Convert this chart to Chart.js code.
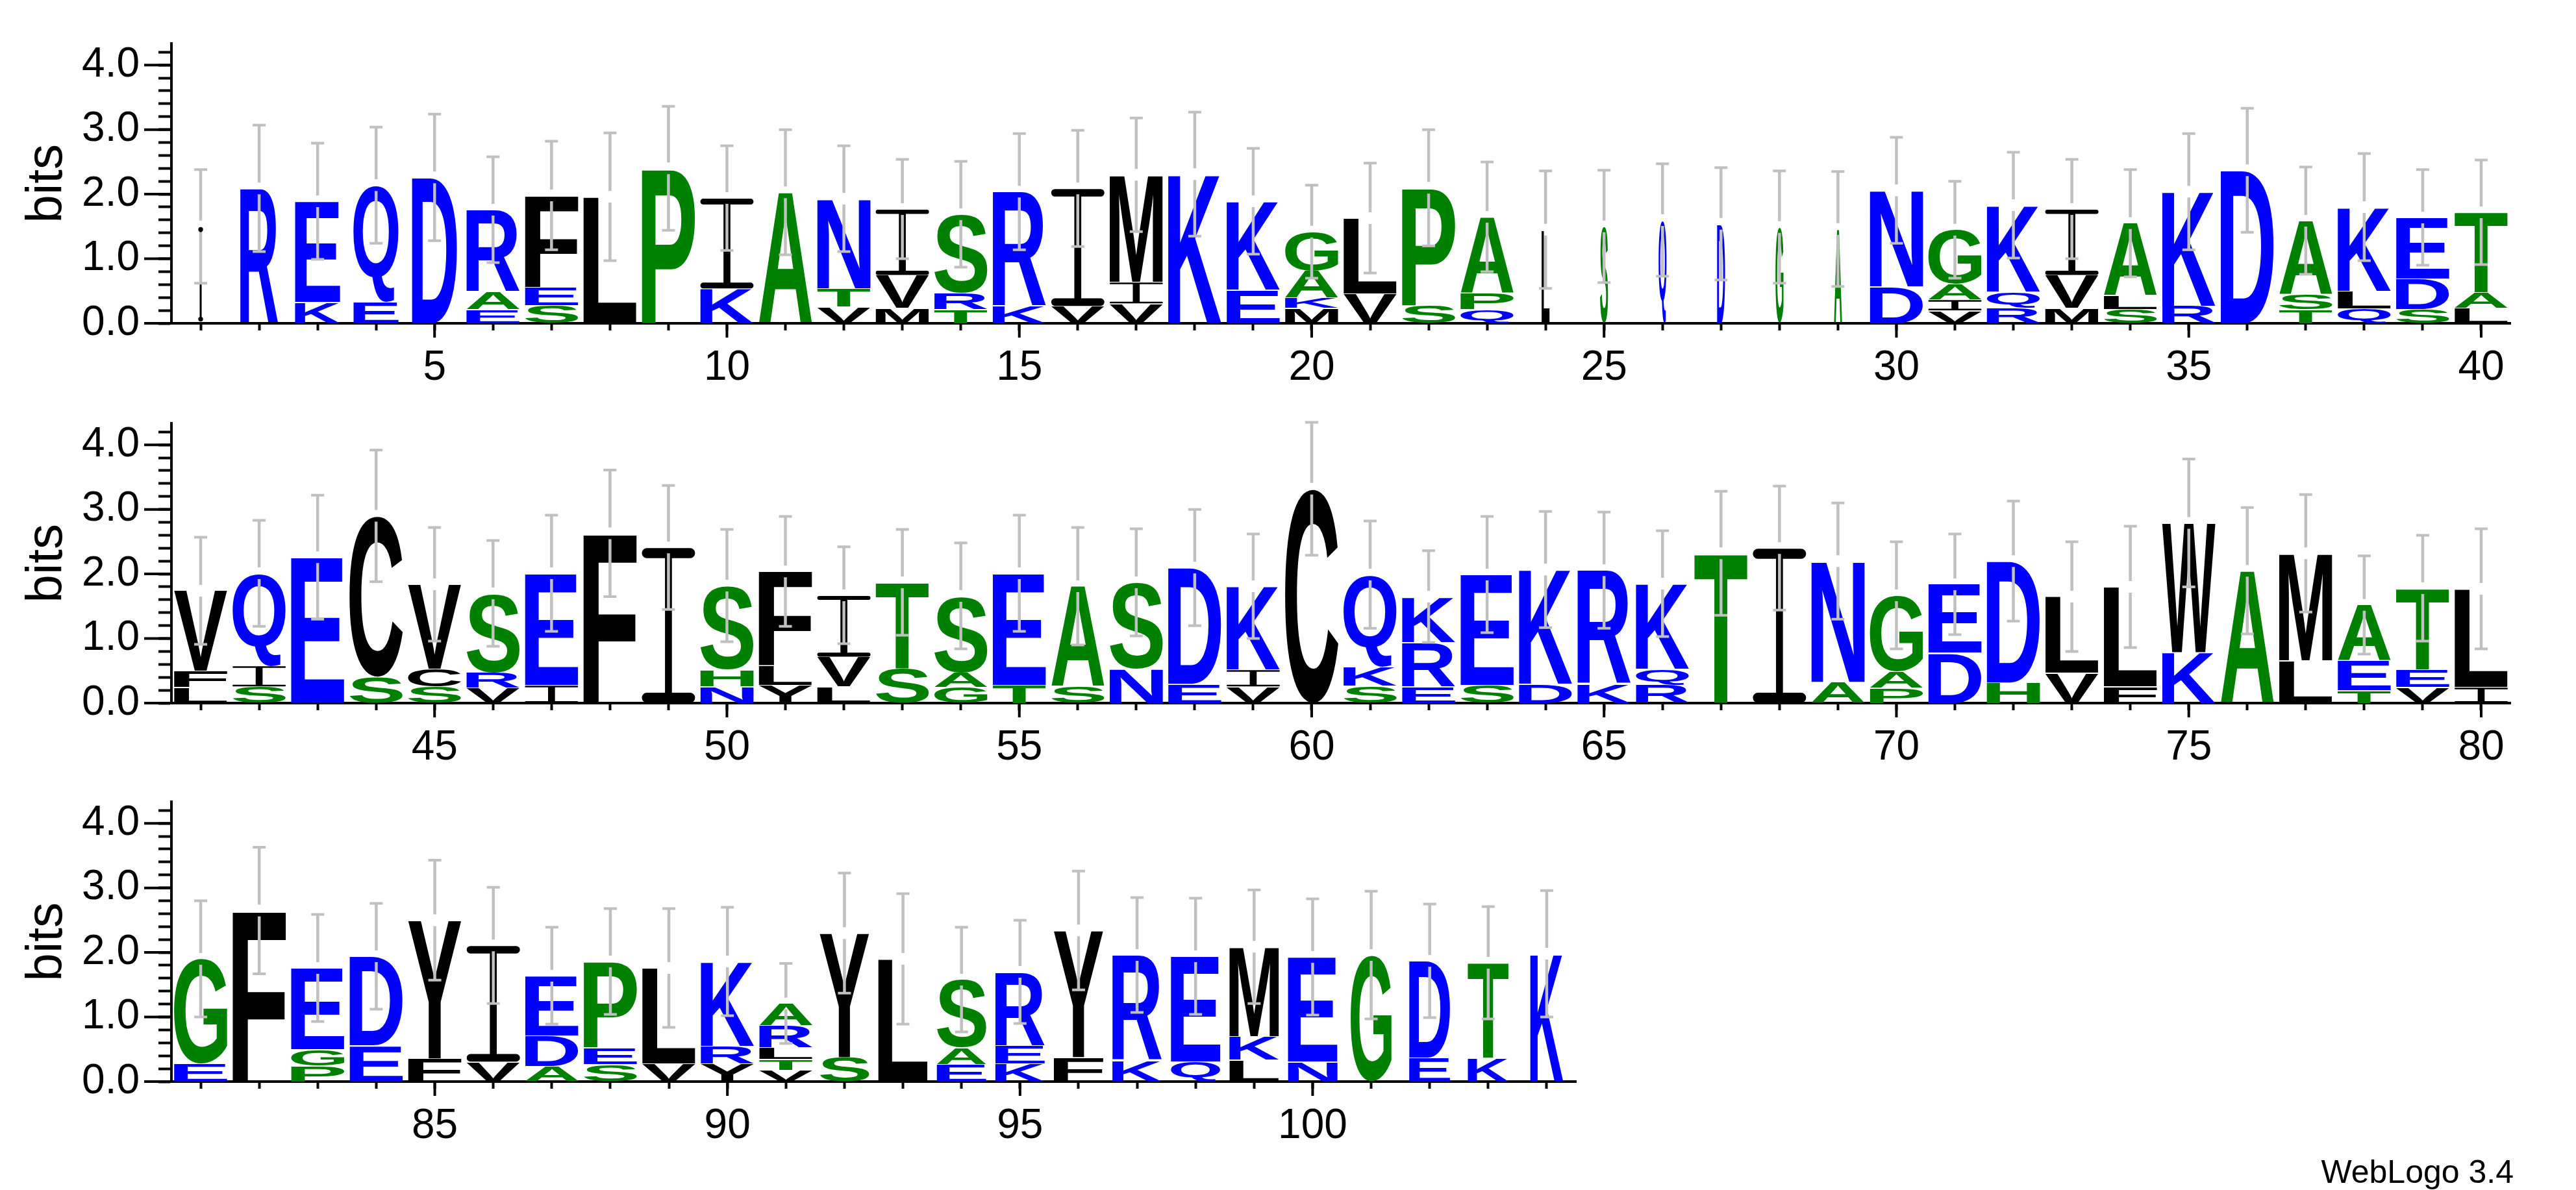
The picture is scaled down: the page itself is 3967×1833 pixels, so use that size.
<!DOCTYPE html>
<html>
<head>
<meta charset="utf-8">
<script src="https://cdn.jsdelivr.net/npm/chart.js@4.4.1/dist/chart.umd.min.js"></script>
<style>
  html, body { margin: 0; padding: 0; background: #fff; }
  body { width: 3967px; height: 1833px; position: relative; overflow: hidden; }
  canvas { position: absolute; left: 0; }
  #credit { position: absolute; right: 96px; top: 1780px; font: 50px "Liberation Sans", Arial, sans-serif; line-height: 50px; color: #000; white-space: nowrap; }
</style>
</head>
<body>
<canvas id="row1" width="3967" height="600" style="top:0px"></canvas>
<canvas id="row2" width="3967" height="600" style="top:585px"></canvas>
<canvas id="row3" width="3967" height="600" style="top:1168px"></canvas>
<div id="credit">WebLogo 3.4</div>
<script>
// letters of each column, bottom to top
const residues = [
  'I','R','KE','EQ','D','EAR','SEF','L','P','KI',
  'A','VTN','MVI','TRS','KR','VI','VIM','K','EK','MKAG',
  'VL','SP','QPA','L','S','Q','D','G','A','DN',
  'VIAG','RQK','MVI','SLA','RK','D','TSA','QLK','SDE','LAT',
  'LFV','SIQ','E','SC','SCV','VRS','IE','F','I','NHS',
  'YLF','LVI','ST','GAS','TE','SA','NS','ED','VIK','C',
  'SKQ','ERK','SE','DK','KR','RQK','T','I','AN','PAG',
  'DE','HD','VL','FL','KW','A','LM','TEA','VET','IL',
  'EG','F','PGE','ED','FY','VI','ADE','SEP','VL','YRK',
  'VTLRA','SY','L','EAS','KER','FY','KR','QE','LKM','NE',
  'G','ED','KT','K'
];

// bits for each letter, same order as residues
const bits = [
  [1.50],[2.09],[0.33,1.56],[0.34,1.80],[2.26],[0.22,0.27,1.27],[0.28,0.28,1.42],[1.96],[2.40],[0.54,1.40],
  [2.03],[0.26,0.28,1.39],[0.24,0.51,1.02],[0.22,0.26,1.21],[0.27,1.77],[0.27,1.82],[0.31,0.33,1.66],[2.31],[0.52,1.37],[0.24,0.16,0.42,0.60],
  [0.46,1.17],[0.28,1.82],[0.22,0.25,1.18],[1.45],[1.50],[1.60],[1.54],[1.49],[1.46],[0.57,1.49],
  [0.20,0.17,0.24,0.84],[0.24,0.25,1.34],[0.24,0.51,1.02],[0.22,0.21,1.12],[0.27,1.77],[2.37],[0.22,0.23,1.14],[0.23,0.27,1.30],[0.22,0.47,0.95],[0.24,0.24,1.24],
  [0.25,0.25,1.24],[0.26,0.32,1.43],[2.26],[0.41,2.49],[0.26,0.27,1.31],[0.24,0.24,1.22],[0.28,1.73],[2.63],[2.41],[0.26,0.26,1.30],
  [0.28,0.30,1.46],[0.26,0.46,0.95],[0.54,1.33],[0.25,0.23,1.18],[0.28,1.73],[0.26,1.55],[0.53,1.34],[0.30,1.80],[0.26,0.26,1.29],[3.32],
  [0.27,0.30,1.42],[0.26,0.69,0.70],[0.28,1.71],[0.30,1.77],[0.30,1.76],[0.28,0.25,1.32],[2.32],[2.40],[0.33,1.87],[0.24,0.26,1.17],
  [0.78,1.06],[0.32,1.88],[0.47,1.18],[0.26,1.54],[0.79,2.00],[2.05],[0.66,1.66],[0.20,0.46,0.86],[0.25,0.27,1.26],[0.25,1.52],
  [0.28,1.62],[2.65],[0.25,0.25,1.26],[0.56,1.38],[0.36,2.14],[0.31,1.80],[0.24,0.47,0.93],[0.27,0.26,1.33],[0.28,1.48],[0.28,0.27,1.31],
  [0.18,0.17,0.18,0.34,0.34],[0.38,1.92],[1.90],[0.27,0.26,1.05],[0.28,0.28,1.14],[0.38,1.96],[0.33,1.63],[0.31,1.63],[0.34,0.36,1.39],[0.31,1.62],
  [1.96],[0.37,1.50],[0.37,1.47],[1.98]
];

// half length of the error bar at each column
const errs = [
  0.88,0.98,0.90,0.90,0.98,0.82,0.84,0.99,0.96,0.81,
  0.97,0.82,0.77,0.82,0.90,0.90,0.88,0.96,0.82,0.72,
  0.85,0.90,0.85,0.91,0.87,0.87,0.87,0.87,0.89,0.82,
  0.75,0.82,0.77,0.83,0.90,0.96,0.83,0.83,0.74,0.81,
  0.83,0.82,0.96,1.02,0.88,0.82,0.90,0.98,0.96,0.87,
  0.85,0.75,0.82,0.82,0.90,0.91,0.83,0.90,0.81,1.03,
  0.83,0.71,0.90,0.90,0.90,0.82,0.96,0.96,0.90,0.83,
  0.78,0.93,0.85,0.94,0.99,0.98,0.91,0.76,0.82,0.93,
  0.90,0.98,0.83,0.82,0.93,0.90,0.75,0.82,0.92,0.84,
  0.62,0.93,1.01,0.81,0.80,0.92,0.89,0.90,0.88,0.90,
  0.99,0.88,0.87,0.98
];

// column width (fraction of sequences without a gap)
const widths = [
  0.09,0.71,0.85,0.85,0.85,1,1,1,1,1,
  1,1,1,1,1,1,1,1,1,1,
  1,1,1,0.15,0.15,0.15,0.15,0.15,0.15,1,
  1,1,1,1,1,1,1,1,1,1,
  1,1,1,1,1,1,1,1,1,1,
  1,1,1,1,1,1,1,1,1,1,
  1,1,1,1,1,1,1,1,1,1,
  1,1,1,1,1,1,1,1,1,1,
  1,1,1,1,1,1,1,1,1,1,
  1,0.93,0.93,0.93,0.93,0.93,0.93,0.93,0.93,0.93,
  0.77,0.77,0.77,0.62
];

const rowFirst = [1, 41, 81];
const rowLast = [40, 80, 104];
const xTickLabels = ['5','10','15','20','25','30','35','40','45','50','55','60','65','70','75','80','85','90','95','100'];
const yTickLabels = ['0.0','1.0','2.0','3.0','4.0'];
const yMax = 4.33;

Chart.defaults.font.family = '"Liberation Sans", Arial, sans-serif';
Chart.defaults.color = '#000';

const glyphFont = 'bold 200px "Liberation Sans", Arial, sans-serif';
const boxes = {};

function colorOf(ch) {
  if ('RKDENQ'.includes(ch)) return '#0000ff';
  if ('SGHTAP'.includes(ch)) return '#008000';
  return '#000000';
}

function glyphBox(ctx, ch) {
  if (!boxes[ch]) {
    ctx.save();
    ctx.font = glyphFont;
    const m = ctx.measureText(ch);
    boxes[ch] = { l: m.actualBoundingBoxLeft, r: m.actualBoundingBoxRight, a: m.actualBoundingBoxAscent, d: m.actualBoundingBoxDescent };
    ctx.restore();
  }
  return boxes[ch];
}

function pill(ctx, x, y, w, h) {
  const r = Math.min(h / 2, w / 2);
  ctx.moveTo(x + r, y);
  ctx.lineTo(x + w - r, y);
  ctx.arc(x + w - r, y + r, r, -Math.PI / 2, Math.PI / 2);
  ctx.lineTo(x + r, y + h);
  ctx.arc(x + r, y + r, r, Math.PI / 2, Math.PI * 1.5);
  ctx.closePath();
}

// the logo's I carries bars at top and foot
function drawSerifI(ctx, x0, y0, w, h) {
  const t = Math.min(h / 3, Math.max(2.5, h * 0.065));
  const sw = Math.min(w, Math.max(3, w * 0.13));
  ctx.save();
  ctx.fillStyle = colorOf('I');
  ctx.beginPath();
  pill(ctx, x0, y0, w, t);
  pill(ctx, x0, y0 + h - t, w, t);
  ctx.rect(x0 + (w - sw) / 2, y0 + t / 2, sw, h - t);
  ctx.fill();
  ctx.restore();
}

// stretch one letter so its ink fills the box
function drawGlyph(ctx, ch, x0, y0, w, h) {
  if (w <= 0 || h <= 0) return;
  if (ch === 'I') { drawSerifI(ctx, x0, y0, w, h); return; }
  const g = glyphBox(ctx, ch);
  ctx.save();
  ctx.translate(x0, y0);
  ctx.scale(w / (g.l + g.r), h / (g.a + g.d));
  ctx.font = glyphFont;
  ctx.fillStyle = colorOf(ch);
  ctx.textAlign = 'left';
  ctx.textBaseline = 'alphabetic';
  ctx.fillText(ch, g.l, g.a);
  ctx.restore();
}

function makeLogoPlugin(first) {
  return {
    id: 'logo' + first,
    afterDatasetsDraw(chart) {
      const ctx = chart.ctx;
      const ys = chart.scales.y;
      chart.data.datasets.forEach((ds, r) => {
        chart.getDatasetMeta(r).data.forEach((bar, i) => {
          const k = first - 1 + i;
          const ch = residues[k][r];
          if (!ch) return;
          const p = bar.getProps(['x', 'y', 'base', 'width'], true);
          const w = p.width * widths[k];
          drawGlyph(ctx, ch, p.x - w / 2, p.y + 1, w, p.base - p.y - 1);
        });
      });
      // error bars
      ctx.save();
      ctx.strokeStyle = '#c0c0c0';
      chart.getDatasetMeta(0).data.forEach((bar, i) => {
        const k = first - 1 + i;
        const top = bits[k].reduce((a, b) => a + b, 0);
        const yc = ys.getPixelForValue(top);
        const yt = ys.getPixelForValue(top + errs[k]);
        const yb = ys.getPixelForValue(top - errs[k]);
        const x = bar.x;
        ctx.lineWidth = 4.5;
        ctx.beginPath();
        ctx.moveTo(x, yt); ctx.lineTo(x, yc - 9);
        ctx.moveTo(x, yc + 9); ctx.lineTo(x, yb);
        ctx.stroke();
        ctx.lineWidth = 4;
        ctx.beginPath();
        ctx.moveTo(x - 10, yt); ctx.lineTo(x + 10, yt);
        ctx.moveTo(x - 10, yb); ctx.lineTo(x + 10, yb);
        ctx.stroke();
      });
      ctx.restore();
    },
    afterDraw(chart) {
      // longer marks at labelled ticks
      const ctx = chart.ctx;
      const xs = chart.scales.x, ys = chart.scales.y;
      ctx.save();
      ctx.strokeStyle = '#000';
      ctx.lineWidth = 4;
      ctx.beginPath();
      ys.ticks.forEach((t, i) => {
        if (!yTickLabels.includes(t.label)) return;
        const py = ys.getPixelForTick(i);
        ctx.moveTo(ys.right - 42, py); ctx.lineTo(ys.right, py);
      });
      xs.ticks.forEach((t, i) => {
        if (!xTickLabels.includes(t.label)) return;
        const px = xs.getPixelForTick(i);
        ctx.moveTo(px, xs.top); ctx.lineTo(px, xs.top + 22);
      });
      ctx.stroke();
      ctx.restore();
    }
  };
}

function buildRow(canvasId, row, padRight) {
  const first = rowFirst[row], last = rowLast[row];
  const labels = [];
  for (let p = first; p <= last; p++) labels.push(String(p));
  const datasets = [];
  for (let r = 0; r < 5; r++) {
    datasets.push({
      data: labels.map((_, i) => bits[first - 1 + i][r] || 0),
      backgroundColor: 'rgba(0,0,0,0)',
      borderWidth: 0,
      categoryPercentage: 1,
      barPercentage: 0.91
    });
  }
  return new Chart(document.getElementById(canvasId), {
    type: 'bar',
    data: { labels, datasets },
    options: {
      responsive: false,
      animation: false,
      devicePixelRatio: 1,
      layout: { padding: { top: 49, left: 0, right: padRight, bottom: 0 } },
      plugins: { legend: { display: false }, tooltip: { enabled: false } },
      scales: {
        x: {
          stacked: true,
          offset: true,
          grid: { offset: false, drawOnChartArea: false, tickLength: 11, tickWidth: 4, tickColor: '#000' },
          border: { display: true, color: '#000', width: 4 },
          ticks: {
            autoSkip: false, maxRotation: 0, padding: 20, color: '#000', font: { size: 64 },
            callback: function (v) {
              const l = this.getLabelForValue(v);
              return xTickLabels.includes(l) ? l : '';
            }
          },
          afterFit: s => { s.height = 102; }
        },
        y: {
          stacked: true,
          min: 0,
          max: yMax,
          grid: { drawOnChartArea: false, tickLength: 20, tickWidth: 4, tickColor: '#000' },
          border: { display: true, color: '#000', width: 4 },
          ticks: {
            stepSize: 0.2, includeBounds: false, autoSkip: false, padding: 29, color: '#000', font: { size: 64 },
            callback: v => {
              const s = v.toFixed(1);
              return yTickLabels.includes(s) ? s : '';
            }
          },
          title: { display: true, text: 'bits', color: '#000', font: { size: 78 }, padding: { top: 27, bottom: 0 } },
          afterFit: s => { s.width = 264; }
        }
      }
    },
    plugins: [makeLogoPlugin(first)]
  });
}

buildRow('row1', 0, 101);
buildRow('row2', 1, 101);
buildRow('row3', 2, 1540);
</script>
</body>
</html>
